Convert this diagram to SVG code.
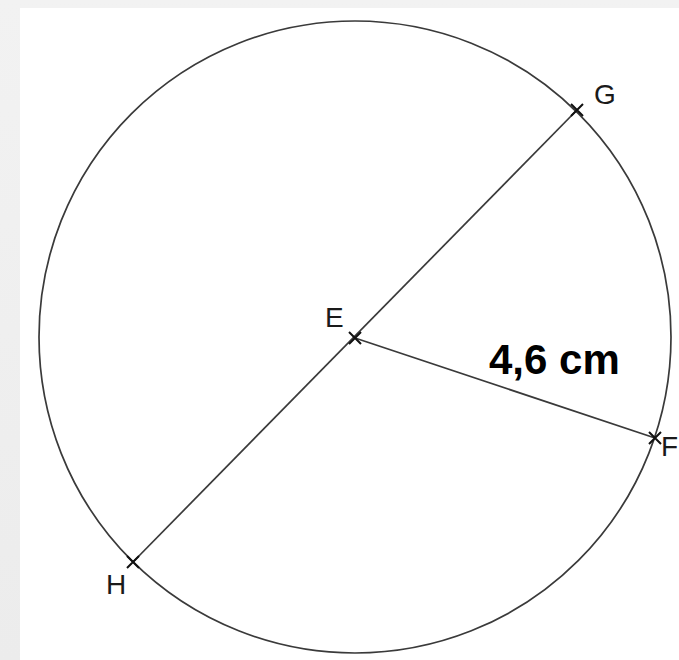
<svg xmlns="http://www.w3.org/2000/svg" width="679" height="660" viewBox="0 0 679 660">
<defs>
<style>
.ln{stroke:#3a3a3a;stroke-width:1.7;fill:none}
.cr{stroke:#111;stroke-width:2;fill:none}
.lb{font-family:"Liberation Sans",Arial,sans-serif;font-size:28px;fill:#1a1a1a}
.bd{font-family:"Liberation Sans",Arial,sans-serif;font-size:42px;font-weight:bold;fill:#000}
</style>
<linearGradient id="bg" x1="0" y1="0" x2="0" y2="1">
<stop offset="0" stop-color="#f2f2f2"/>
<stop offset="1" stop-color="#ececec"/>
</linearGradient>
</defs>
<rect x="0" y="0" width="679" height="660" fill="url(#bg)"/>
<rect x="20" y="8" width="659" height="652" fill="#fff"/>
<g id="circle"><circle cx="355" cy="337" r="316" class="ln"/></g>
<g id="connectors">
<line x1="577" y1="110" x2="133" y2="562" class="ln"/>
<line x1="355" y1="338" x2="655" y2="438" class="ln"/>
</g>
<g id="E"><path d="M349,332 L361,344 M361,332 L349,344" class="cr"/><text x="325" y="327" class="lb">E</text></g>
<g id="G"><path d="M571,104 L583,116 M583,104 L571,116" class="cr"/><text x="594" y="104" class="lb">G</text></g>
<g id="H"><path d="M127,556 L139,568 M139,556 L127,568" class="cr"/><text x="106" y="594" class="lb">H</text></g>
<g id="F"><path d="M649,432 L661,444 M661,432 L649,444" class="cr"/><text x="661" y="456" class="lb">F</text></g>
<g id="label"><text x="489" y="374" class="bd">4,6 cm</text></g>
</svg>
